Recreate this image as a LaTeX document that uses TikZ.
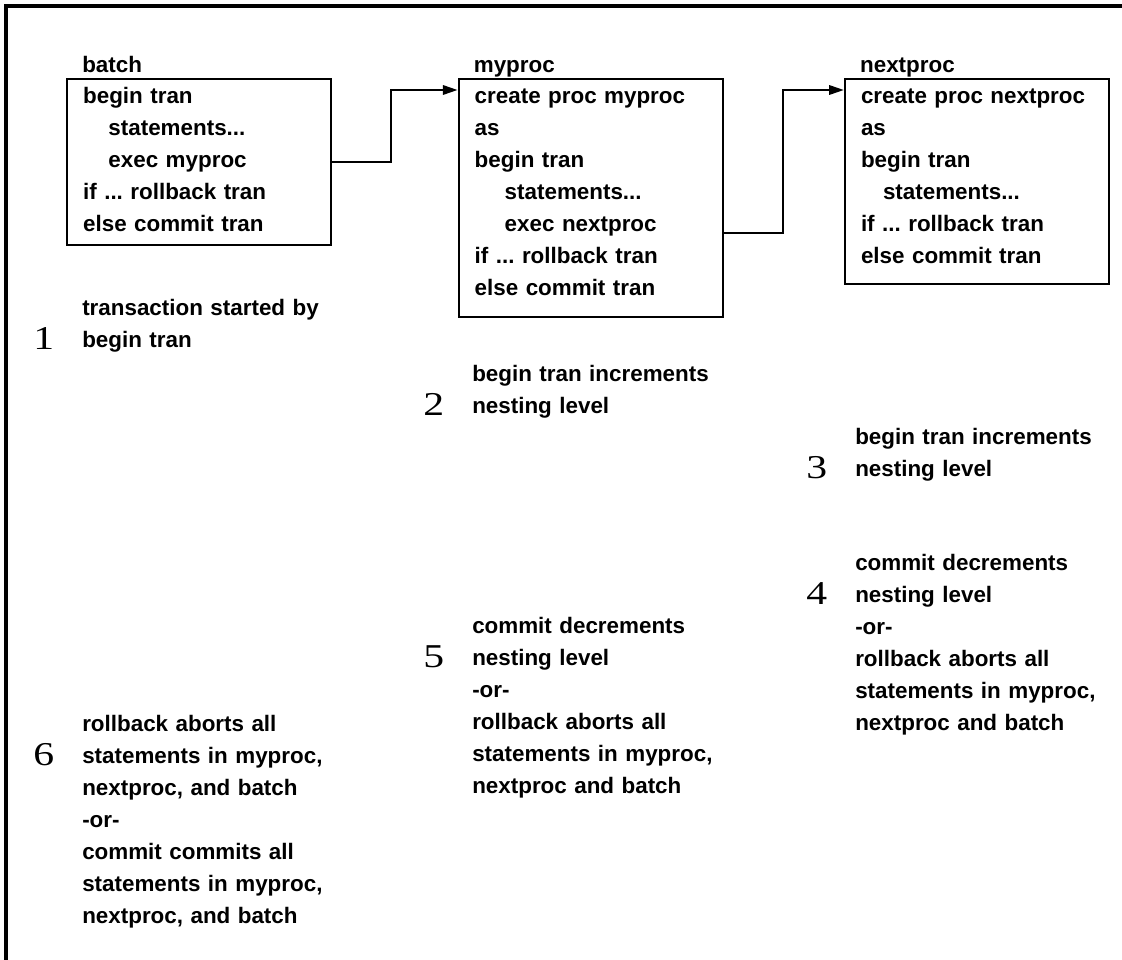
\documentclass[tikz,border=0pt]{standalone}
\usepackage{fontspec}
\setmainfont{Liberation Sans}
\newfontfamily\numfont[FakeStretch=1.25]{Liberation Serif}
\usetikzlibrary{arrows.meta, positioning, calc}
\frenchspacing

\begin{document}
\begin{tikzpicture}[
    x=0.75pt, y=-0.75pt,
    every node/.style={font=\bfseries\fontsize{16.8pt}{24pt}\selectfont, inner sep=0pt},
    codebox/.style={rectangle, draw, line width=1.7pt, align=left, text width=174pt,
        inner xsep=12pt, inner ysep=1.5pt, anchor=north west,
        execute at begin node={\rule{0pt}{17pt}},
        execute at end node={\rule[-#1]{0pt}{#1}}},
    boxlabel/.style={anchor=base west},
    note/.style={anchor=base west, align=left, text width=200pt},
    stepnum/.style={anchor=base west, font=\numfont\fontsize{25pt}{24pt}\selectfont},
    link/.style={-{Triangle[length=11pt, width=7pt]}, line width=1.6pt},
    frame/.style={line width=2.4pt}
]
\useasboundingbox (0,0) rectangle (1122,960);

% ============ FRAME ============
\draw[frame] (6,960) -- (6,6) -- (1122,6);

% ============ CODE BOXES ============
\node[codebox=8.5pt] (batch) at (66,78) {begin tran\\
    \hspace*{19pt}statements...\\
    \hspace*{19pt}exec myproc\\
    if ... rollback tran\\
    else commit tran};

\node[codebox=14.25pt, right=94pt of batch.north east, anchor=north west] (myproc) {create proc myproc\\
    as\\
    begin tran\\
    \hspace*{22.5pt}statements...\\
    \hspace*{22.5pt}exec nextproc\\
    if ... rollback tran\\
    else commit tran};

\node[codebox=13.5pt, right=90pt of myproc.north east, anchor=north west] (nextproc) {create proc nextproc\\
    as\\
    begin tran\\
    \hspace*{16.5pt}statements...\\
    if ... rollback tran\\
    else commit tran};

% Box titles
\node[boxlabel] (batchlabel) at ([xshift=12pt, yshift=4.5pt]batch.north west) {batch};
\node[boxlabel] (myproclabel) at ([xshift=12pt, yshift=4.5pt]myproc.north west) {myproc};
\node[boxlabel] (nextproclabel) at ([xshift=12pt, yshift=4.5pt]nextproc.north west) {nextproc};

% Calls
\draw[link] (batch.east) -- ++(59,0) |- ([yshift=-9pt]myproc.north west);
\draw[link] ([yshift=-116pt]myproc.north east) -- ++(59,0) |- ([yshift=-9pt]nextproc.north west);

% ============ NOTES ============
\node[note] (note1) at (82,315) {transaction started by\\begin tran};
\node[note] (note2) at (472,381) {begin tran increments\\nesting level};
\node[note] (note3) at (855,444) {begin tran increments\\nesting level};
\node[note] (note4) at (855,570) {commit decrements\\nesting level\\-or-\\rollback aborts all\\statements in myproc,\\nextproc and batch};
\node[note] (note5) at (472,633) {commit decrements\\nesting level\\-or-\\rollback aborts all\\statements in myproc,\\nextproc and batch};
\node[note] (note6) at (82,731) {rollback aborts all\\statements in myproc,\\nextproc, and batch\\-or-\\commit commits all\\statements in myproc,\\nextproc, and batch};

% Step numbers
\node[stepnum] (num1) at ($(note1.base west)+(-49,34)$) {1};
\node[stepnum] (num2) at ($(note2.base west)+(-49,34)$) {2};
\node[stepnum] (num3) at ($(note3.base west)+(-49,34)$) {3};
\node[stepnum] (num4) at ($(note4.base west)+(-49,34)$) {4};
\node[stepnum] (num5) at ($(note5.base west)+(-49,34)$) {5};
\node[stepnum] (num6) at ($(note6.base west)+(-49,34)$) {6};

\end{tikzpicture}
\end{document}
